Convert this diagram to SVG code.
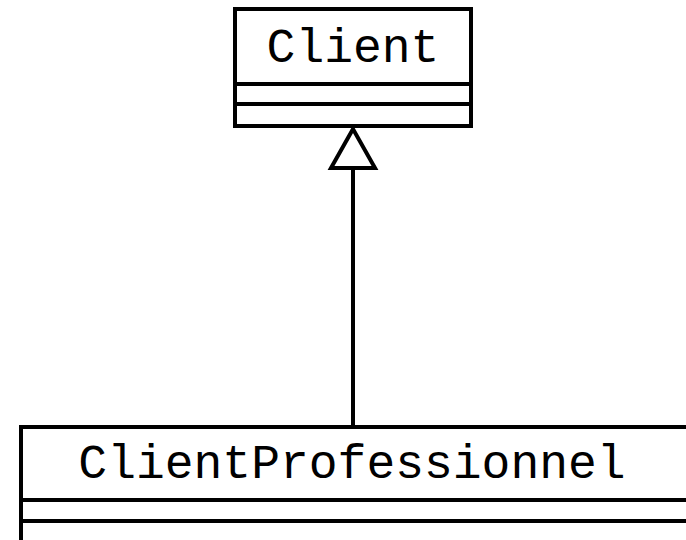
<svg xmlns="http://www.w3.org/2000/svg" width="686" height="540" viewBox="0 0 686 540">
<style>
.box{fill:#fff;stroke:#000;stroke-width:4}
.sep{stroke:#000;stroke-width:4}
.t{font-family:"Liberation Mono","Courier New",monospace;font-size:48px;fill:#000;text-anchor:middle}
.edge{stroke:#000;stroke-width:4;fill:none}
</style>
<rect width="686" height="540" fill="#fff"/>
<g id="connectors">
<line class="edge" x1="353" y1="168" x2="353" y2="427"/>
<polygon points="353,129 331,168 375,168" fill="#fff" stroke="#000" stroke-width="4"/>
</g>
<g id="Client">
<rect class="box" x="235" y="9" width="236" height="117"/>
<line class="sep" x1="235" y1="84" x2="471" y2="84"/>
<line class="sep" x1="235" y1="104" x2="471" y2="104"/>
<text class="t" x="353" y="62">Client</text>
</g>
<g id="ClientProfessionnel">
<rect class="box" x="21" y="427" width="680" height="130"/>
<line class="sep" x1="21" y1="500" x2="701" y2="500"/>
<line class="sep" x1="21" y1="521" x2="701" y2="521"/>
<text class="t" x="352" y="478">ClientProfessionnel</text>
</g>
</svg>
